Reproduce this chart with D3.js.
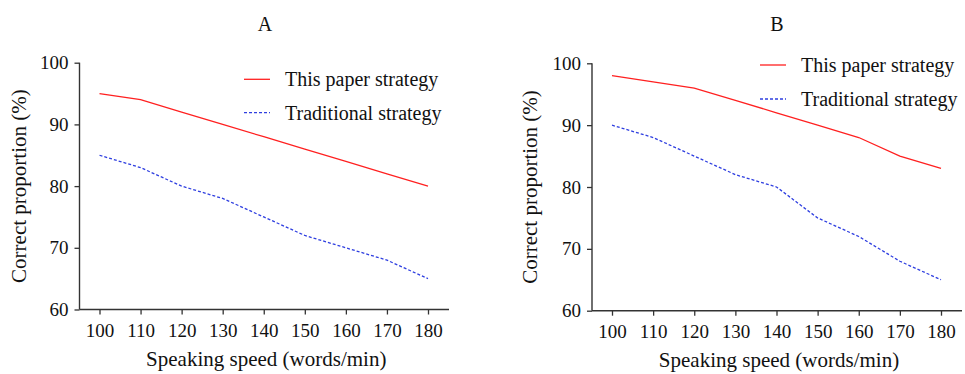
<!DOCTYPE html>
<html>
<head>
<meta charset="utf-8">
<script src="https://cdn.jsdelivr.net/npm/d3@7"></script>
<style>
  html, body { margin: 0; padding: 0; background: #fff; }
  svg { display: block; }
</style>
</head>
<body>
<svg id="chart" width="965" height="374"></svg>
<script>
// Speaking speed (words/min) on the x axis
const speeds = [100, 110, 120, 130, 140, 150, 160, 170, 180];
const yTicks = [60, 70, 80, 90, 100];
const seriesNames = ["This paper strategy", "Traditional strategy"];

// Panel A: correct proportion (%)
const proposedA = [95, 94, 92, 90, 88, 86, 84, 82, 80];
const traditionalA = [85, 83, 80, 78, 75, 72, 70, 68, 65];

// Panel B: correct proportion (%)
const proposedB = [98, 97, 96, 94, 92, 90, 88, 85, 83];
const traditionalB = [90, 88, 85, 82, 80, 75, 72, 68, 65];

const FONT = "'Liberation Serif'";
const svg = d3.select("#chart");

function drawPanel(cfg) {
  const g = svg.append("g");
  const x = d3.scaleLinear().domain([100, 180]).range([cfg.x100, cfg.x180]);
  const y = d3.scaleLinear().domain([60, 100]).range([cfg.yBottom, cfg.yTop]);

  // Panel letter
  g.append("text").attr("x", cfg.titleX).attr("y", 30.5)
    .attr("text-anchor", "middle").attr("font-size", 20).text(cfg.title);

  // Axes
  const yAxis = g.append("g").attr("transform", `translate(${cfg.axisX},0)`)
    .call(d3.axisLeft(y).tickValues(yTicks).tickSize(5).tickPadding(6));
  const xAxis = g.append("g").attr("transform", `translate(0,${cfg.yBottom})`)
    .call(d3.axisBottom(x).tickValues(speeds).tickSize(5).tickPadding(9));
  [xAxis, yAxis].forEach(a => {
    a.attr("font-size", 19);
    a.select(".domain").remove();
    a.selectAll("line").attr("stroke", "#333").attr("stroke-width", 1.3);
  });
  // axis lines
  g.append("line").attr("x1", cfg.axisX).attr("x2", cfg.axisX)
    .attr("y1", y(100)).attr("y2", cfg.yBottom)
    .attr("stroke", "#333").attr("stroke-width", 1.4);
  g.append("line").attr("x1", cfg.axisX).attr("x2", cfg.xEnd)
    .attr("y1", cfg.yBottom).attr("y2", cfg.yBottom)
    .attr("stroke", "#333").attr("stroke-width", 1.4);

  // Axis titles
  g.append("text").attr("x", (cfg.axisX + cfg.xEnd) / 2 + 2).attr("y", cfg.yBottom + 56.5)
    .attr("text-anchor", "middle").attr("font-size", 21)
    .text("Speaking speed (words/min)");
  g.append("text")
    .attr("transform", `translate(${cfg.yTitleX},${(y(100) + cfg.yBottom) / 2}) rotate(-90)`)
    .attr("text-anchor", "middle").attr("font-size", 21)
    .text("Correct proportion (%)");

  // Lines
  const line = d3.line().x((d, i) => x(speeds[i])).y(d => y(d));
  g.append("path").datum(cfg.proposed).attr("d", line)
    .attr("fill", "none").attr("stroke", "#ff2020").attr("stroke-width", 1.3);
  g.append("path").datum(cfg.traditional).attr("d", line)
    .attr("fill", "none").attr("stroke", "#2f3fe0").attr("stroke-width", 1.3)
    .attr("stroke-dasharray", "3,2");

  // Legend
  const styles = [
    { stroke: "#ff2020", dash: null },
    { stroke: "#2f3fe0", dash: "3,2" }
  ];
  seriesNames.forEach((name, i) => {
    const ly = cfg.legendY + i * cfg.legendGap;
    g.append("line").attr("x1", cfg.legendX).attr("x2", cfg.legendX + 26)
      .attr("y1", ly).attr("y2", ly)
      .attr("stroke", styles[i].stroke).attr("stroke-width", 1.3)
      .attr("stroke-dasharray", styles[i].dash);
    g.append("text").attr("x", cfg.legendX + 41).attr("y", ly + 7)
      .attr("font-size", 20).text(name);
  });
}

drawPanel({
  title: "A", titleX: 265,
  axisX: 79.5, xEnd: 449, x100: 99.5, x180: 428,
  yTop: 62.7, yBottom: 309.5, yTitleX: 26,
  proposed: proposedA, traditional: traditionalA,
  legendX: 244, legendY: 79.3, legendGap: 33.4
});

drawPanel({
  title: "B", titleX: 777,
  axisX: 592, xEnd: 962, x100: 612, x180: 941,
  yTop: 63.3, yBottom: 310.7, yTitleX: 537,
  proposed: proposedB, traditional: traditionalB,
  legendX: 760, legendY: 65, legendGap: 34
});

// Serif text everywhere, set inline so axis defaults cannot override it
svg.selectAll("text").style("font-family", FONT).style("fill", "#111");
</script>
</body>
</html>
